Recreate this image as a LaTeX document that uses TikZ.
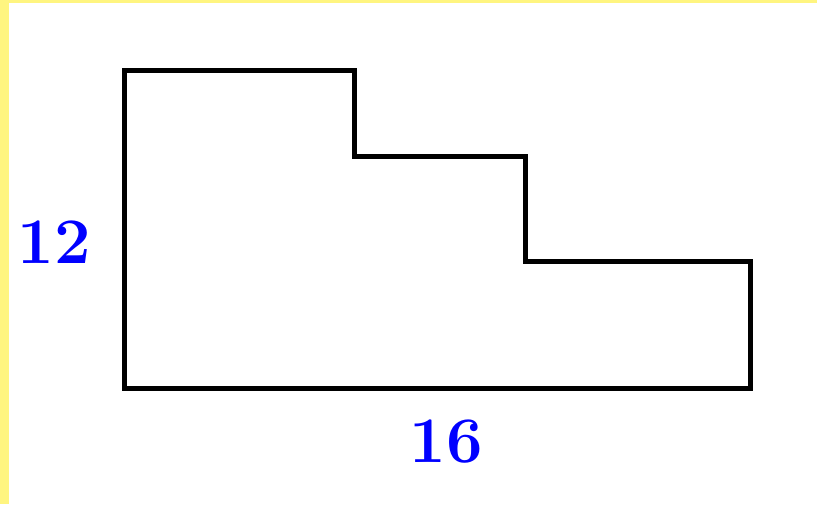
\documentclass[tikz,border=0pt]{standalone}
\usepackage{tikz}

\definecolor{stripyellow}{RGB}{255,245,128}

\begin{document}
\begin{tikzpicture}[
x=0.02cm, y=-0.02cm,
outline/.style={draw=black, line width=0.1cm, line join=miter},
sizelabel/.style={text=blue, font=\fontsize{37}{44}\selectfont\bfseries, inner sep=0pt},
]
    \useasboundingbox (0,0) rectangle (817,504);
    \fill[stripyellow] (0,0) rectangle (9,504);
    \fill[stripyellow] (0,0) rectangle (817,2.5);

    \draw [outline] (124,70) -- (354,70) -- (354,156) -- (525,156) -- (525,261)
        -- (750,261) -- (750,388) -- (124,388) -- cycle;

    \node [sizelabel] (h) at (54,242) {12};
    \node [sizelabel] (w) at (446,442) {16};

\end{tikzpicture}
\end{document}
